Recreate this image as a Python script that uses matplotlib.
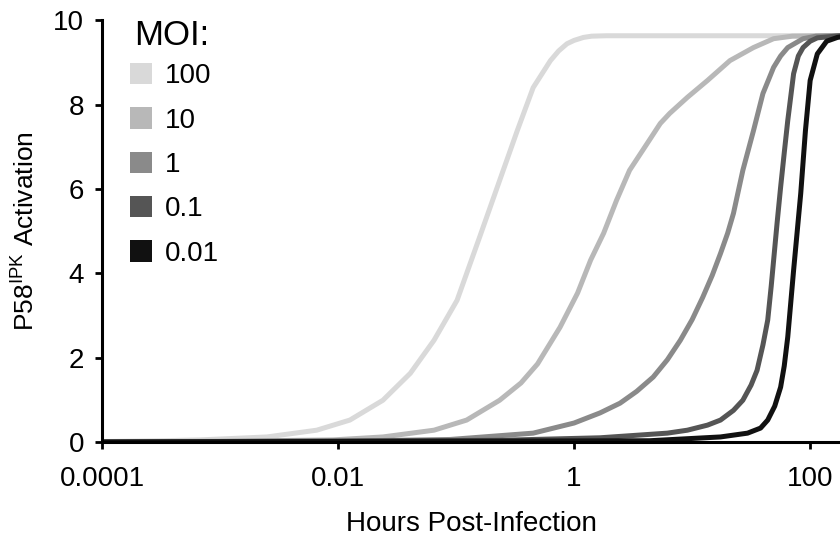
"""
P58IPK activation vs hours post-infection, one curve per MOI
"""

import matplotlib
matplotlib.use('Agg')
import matplotlib.pyplot as plt
from matplotlib.patches import Patch

plt.rcParams['font.family'] = ['Liberation Sans', 'DejaVu Sans']
plt.rcParams['mathtext.fontset'] = 'custom'
plt.rcParams['mathtext.rm'] = 'Liberation Sans'

# values (hours, activation)
moi_labels = ['100', '10', '1', '0.1', '0.01']

h_100 = [0.0001, 0.00032, 0.00068, 0.0025, 0.0066, 0.0126, 0.024, 0.041, 0.065,
         0.102, 0.158, 0.234, 0.33, 0.45, 0.63, 0.74, 0.87, 1.0, 1.2, 1.41, 1.9, 179]
a_100 = [0.01, 0.03, 0.05, 0.12, 0.28, 0.52, 0.99, 1.63, 2.41,
         3.36, 4.85, 6.2, 7.38, 8.4, 9.04, 9.27, 9.44, 9.52, 9.59, 9.62, 9.63, 9.63]

h_10 = [0.0001, 0.001, 0.0091, 0.024, 0.065, 0.123, 0.234, 0.355, 0.49, 0.76, 1.07,
        1.38, 1.78, 2.29, 2.95, 4.17, 5.37, 6.46, 9.12, 13.5, 20.9, 33.1, 49, 70.8, 179]
a_10 = [0.0, 0.02, 0.05, 0.12, 0.28, 0.52, 0.99, 1.4, 1.85, 2.72, 3.53,
        4.31, 4.95, 5.73, 6.44, 7.08, 7.55, 7.79, 8.17, 8.57, 9.04, 9.35, 9.56, 9.62, 9.63]

h_1 = [0.0001, 0.01, 0.089, 0.45, 1.0, 1.66, 2.45, 3.39, 4.68, 6.17, 7.94, 10,
       12.3, 14.8, 17.4, 20, 22.4, 26.9, 33.1, 39.8, 49, 56.2, 64.6, 87.1, 112, 179]
a_1 = [0.0, 0.02, 0.06, 0.21, 0.45, 0.69, 0.92, 1.2, 1.54, 1.95, 2.41, 2.9,
       3.43, 3.95, 4.47, 4.95, 5.42, 6.44, 7.38, 8.26, 8.88, 9.15, 9.35, 9.56, 9.62, 9.63]

h_01 = [0.0001, 0.234, 1.66, 6.17, 9.12, 13.5, 17.4, 22.4, 26.9, 31.6, 35.5, 39.8,
        43.7, 46.8, 49, 52.5, 56.2, 60.3, 64.6, 72.4, 79.4, 87.1, 100, 115, 179]
a_01 = [0.0, 0.04, 0.1, 0.21, 0.28, 0.4, 0.52, 0.75, 0.99, 1.35, 1.7, 2.3,
        2.89, 3.7, 4.3, 5.2, 6.04, 6.85, 7.62, 8.73, 9.15, 9.35, 9.5, 9.58, 9.63]

h_001 = [0.0001, 4.37, 17.4, 29.5, 38, 43.7, 50.1, 56.2, 60.3, 64.6, 72.4,
         83.2, 91.2, 100, 115, 138, 170, 179]
a_001 = [0.0, 0.03, 0.12, 0.21, 0.33, 0.52, 0.85, 1.3, 1.8, 2.49, 4.07,
         5.89, 7.38, 8.57, 9.2, 9.5, 9.59, 9.6]

x_ticks = [0.0001, 0.01, 1, 100]
x_tick_labels = ['0.0001', '0.01', '1', '100']
y_ticks = [0, 2, 4, 6, 8, 10]

colors = ['#d9d9d9', '#b8b8b8', '#8a8a8a', '#555555', '#111111']
series = [(h_100, a_100), (h_10, a_10), (h_1, a_1), (h_01, a_01), (h_001, a_001)]

fig = plt.figure(figsize=(8.4, 5.44), dpi=100)
ax = fig.add_axes([0.1214, 0.1875, 0.8786, 0.7755])

for (h, a), c in zip(series, colors):
    ax.plot(h, a, color=c, lw=3.6, solid_capstyle='round', solid_joinstyle='round')

ax.set_xscale('log')
ax.set_xlim(0.0001, 179)
ax.set_ylim(0, 10)
ax.set_xticks(x_ticks, x_tick_labels)
ax.minorticks_off()
ax.set_yticks(y_ticks)

for s in ['top', 'right']:
    ax.spines[s].set_visible(False)
for s in ['left', 'bottom']:
    ax.spines[s].set_linewidth(2.2)

ax.tick_params(axis='both', direction='out', length=5, width=2, labelsize=20)
ax.tick_params(axis='x', pad=12)
ax.tick_params(axis='y', pad=8)

ax.set_xlabel('Hours Post-Infection', fontsize=20, labelpad=14)
ax.set_ylabel(r'P58$^{\mathrm{IPK}}$ Activation', fontsize=19, labelpad=10)

# legend: title drawn as its own text so the rows can sit where they do in the figure
ax.text(0.043, 0.963, 'MOI:', transform=ax.transAxes, fontsize=25,
        ha='left', va='center')
handles = [Patch(facecolor=c, edgecolor='none') for c in colors]
leg = ax.legend(handles, moi_labels, loc='upper left',
                bbox_to_anchor=(0.038, 0.898), frameon=False, fontsize=20,
                handlelength=0.8, handleheight=0.8, handletextpad=0.45,
                labelspacing=0.65, borderpad=0, borderaxespad=0)

fig.savefig('out.png', dpi=100)
